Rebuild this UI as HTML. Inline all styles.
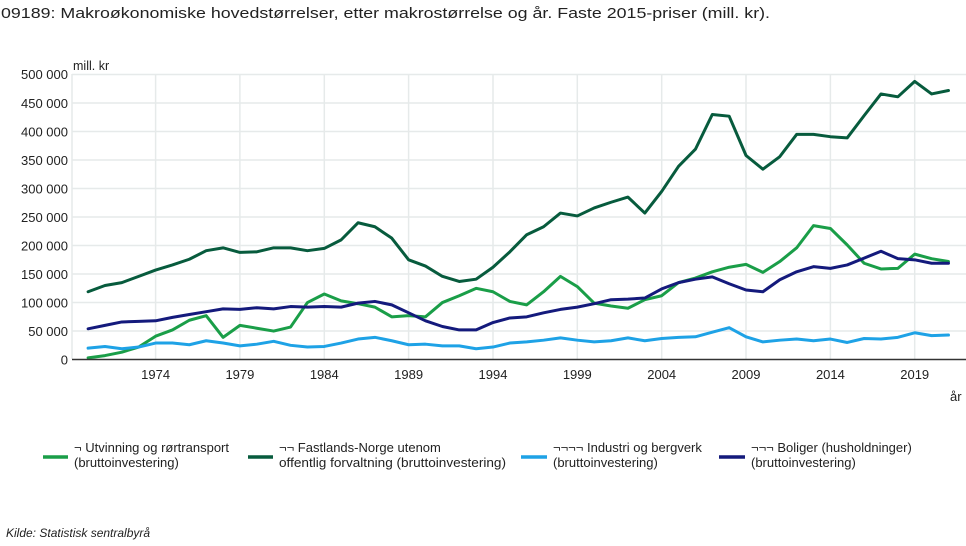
<!DOCTYPE html>
<html>
<head>
<meta charset="utf-8">
<style>
  html, body { margin: 0; padding: 0; background: #fff; }
  body { width: 966px; height: 546px; overflow: hidden; }
  svg { display: block; }
  text { font-family: "Liberation Sans", Arial, sans-serif; fill: #222; }
</style>
</head>
<body>
<svg width="966" height="546" viewBox="0 0 966 546" xmlns="http://www.w3.org/2000/svg">
  <!-- Title -->
  <text x="1" y="18" font-size="15" textLength="769" lengthAdjust="spacingAndGlyphs">09189: Makroøkonomiske hovedstørrelser, etter makrostørrelse og år. Faste 2015-priser (mill. kr).</text>

  <!-- Gridlines -->
  <g stroke="#e6eaea" stroke-width="1.5" fill="none">
    <line x1="72" y1="74.5" x2="966" y2="74.5"/>
    <line x1="72" y1="103" x2="966" y2="103"/>
    <line x1="72" y1="131.5" x2="966" y2="131.5"/>
    <line x1="72" y1="160" x2="966" y2="160"/>
    <line x1="72" y1="188.5" x2="966" y2="188.5"/>
    <line x1="72" y1="217" x2="966" y2="217"/>
    <line x1="72" y1="245.5" x2="966" y2="245.5"/>
    <line x1="72" y1="274" x2="966" y2="274"/>
    <line x1="72" y1="302.5" x2="966" y2="302.5"/>
    <line x1="72" y1="331" x2="966" y2="331"/>
    <line x1="72" y1="74" x2="72" y2="359"/>
    <line x1="155.6" y1="74" x2="155.6" y2="359"/>
    <line x1="239.9" y1="74" x2="239.9" y2="359"/>
    <line x1="324.3" y1="74" x2="324.3" y2="359"/>
    <line x1="408.6" y1="74" x2="408.6" y2="359"/>
    <line x1="493" y1="74" x2="493" y2="359"/>
    <line x1="577.3" y1="74" x2="577.3" y2="359"/>
    <line x1="661.7" y1="74" x2="661.7" y2="359"/>
    <line x1="746" y1="74" x2="746" y2="359"/>
    <line x1="830.4" y1="74" x2="830.4" y2="359"/>
    <line x1="914.7" y1="74" x2="914.7" y2="359"/>
  </g>

  <!-- Y labels -->
  <g font-size="13" text-anchor="end">
    <text x="68" y="79">500 000</text>
    <text x="68" y="108">450 000</text>
    <text x="68" y="136.5">400 000</text>
    <text x="68" y="165">350 000</text>
    <text x="68" y="193.5">300 000</text>
    <text x="68" y="222">250 000</text>
    <text x="68" y="250.5">200 000</text>
    <text x="68" y="279">150 000</text>
    <text x="68" y="307.5">100 000</text>
    <text x="68" y="336">50 000</text>
    <text x="68" y="364.5">0</text>
  </g>
  <text x="73" y="70" font-size="12.5">mill. kr</text>

  <!-- X labels -->
  <g font-size="13" text-anchor="middle">
    <text x="155.6" y="379">1974</text>
    <text x="239.9" y="379">1979</text>
    <text x="324.3" y="379">1984</text>
    <text x="408.6" y="379">1989</text>
    <text x="493" y="379">1994</text>
    <text x="577.3" y="379">1999</text>
    <text x="661.7" y="379">2004</text>
    <text x="746" y="379">2009</text>
    <text x="830.4" y="379">2014</text>
    <text x="914.7" y="379">2019</text>
  </g>
  <text x="950" y="401" font-size="13">år</text>

  <!-- Series -->
  <g transform="matrix(16.87 0 0 -0.57 88.1 359)" fill="none" stroke-linejoin="round" stroke-linecap="round">
    <polyline vector-effect="non-scaling-stroke" stroke="#1a9e48" stroke-width="3"
      points="0,2 1,6 2,12 3,21 4,40 5,51 6,68 7,76 8,38 9,59 10,54 11,49 12,56 13,99 14,114 15,102 16,97 17,91 18,74 19,76 20,74 21,99 22,111 23,124 24,118 25,101 26,95 27,118 28,145 29,127 30,98 31,93 32,89 33,104 34,111 35,134 36,142 37,153 38,161 39,166 40,152 41,171 42,195 43,234 44,229 45,200 46,168 47,158 48,159 49,184 50,176 51,171"/>
    <polyline vector-effect="non-scaling-stroke" stroke="#075b3d" stroke-width="3"
      points="0,118 1,129 2,134 3,145 4,156 5,165 6,175 7,190 8,195 9,187 10,188 11,195 12,195 13,190 14,194 15,209 16,239 17,232 18,212 19,174 20,163 21,145 22,136 23,140 24,161 25,188 26,218 27,232 28,256 29,251 30,265 31,275 32,284 33,256 34,294 35,338 36,368 37,429 38,426 39,357 40,333 41,355 42,394 43,394 44,390 45,388 46,427 47,465 48,460 49,487 50,465 51,471"/>
    <polyline vector-effect="non-scaling-stroke" stroke="#1ea2e6" stroke-width="3"
      points="0,19 1,22 2,18 3,21 4,28 5,28 6,25 7,32 8,28 9,23 10,26 11,31 12,24 13,21 14,22 15,28 16,35 17,38 18,32 19,25 20,26 21,23 22,23 23,18 24,21 25,28 26,30 27,33 28,37 29,33 30,30 31,32 32,37 33,32 34,36 35,38 36,39 37,47 38,55 39,39 40,30 41,33 42,35 43,32 44,35 45,29 46,36 47,35 48,38 49,46 50,41 51,42"/>
    <polyline vector-effect="non-scaling-stroke" stroke="#141a7c" stroke-width="3"
      points="0,53 1,59 2,65 3,66 4,67 5,73 6,78 7,83 8,88 9,87 10,90 11,88 12,92 13,91 14,92 15,91 16,98 17,101 18,95 19,81 20,67 21,57 22,51 23,51 24,64 25,72 26,74 27,81 28,87 29,91 30,97 31,104 32,105 33,107 34,123 35,134 36,140 37,144 38,132 39,121 40,118 41,139 42,153 43,162 44,159 45,165 46,177 47,189 48,176 49,174 50,168 51,168"/>
  </g>

  <!-- X axis line -->
  <line x1="72" y1="359.5" x2="966" y2="359.5" stroke="#333" stroke-width="1.5"/>

  <!-- Legend -->
  <g stroke-width="3.5">
    <line x1="43" y1="457" x2="68" y2="457" stroke="#1a9e48"/>
    <line x1="248" y1="457" x2="273" y2="457" stroke="#075b3d"/>
    <line x1="521" y1="457" x2="547" y2="457" stroke="#1ea2e6"/>
    <line x1="719" y1="457" x2="745" y2="457" stroke="#141a7c"/>
  </g>
  <g font-size="13">
    <text x="74" y="452">¬ Utvinning og rørtransport</text>
    <text x="74" y="467">(bruttoinvestering)</text>
    <text x="279" y="452">¬¬ Fastlands-Norge utenom</text>
    <text x="279" y="467" textLength="227" lengthAdjust="spacingAndGlyphs">offentlig forvaltning (bruttoinvestering)</text>
    <text x="553" y="452">¬¬¬¬ Industri og bergverk</text>
    <text x="553" y="467">(bruttoinvestering)</text>
    <text x="751" y="452">¬¬¬ Boliger (husholdninger)</text>
    <text x="751" y="467">(bruttoinvestering)</text>
  </g>

  <!-- Source -->
  <text x="6" y="537" font-size="12" font-style="italic">Kilde:  Statistisk sentralbyrå</text>
</svg>
</body>
</html>
